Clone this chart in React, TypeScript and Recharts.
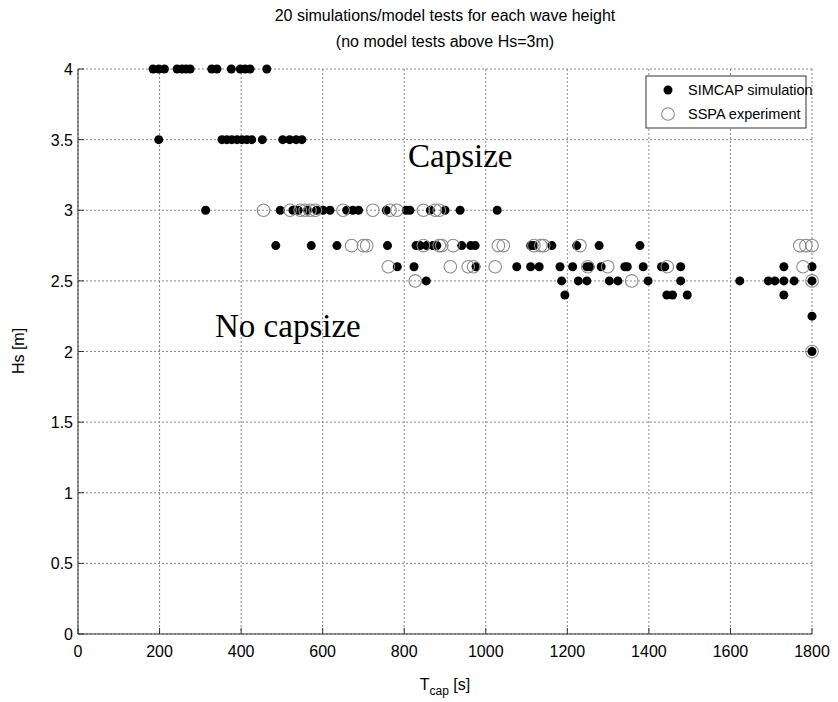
import React from 'react';
import { ScatterChart, Scatter, XAxis, YAxis, CartesianGrid } from 'recharts';

const xTicks = [0, 200, 400, 600, 800, 1000, 1200, 1400, 1600, 1800];
const yTicks = [0, 0.5, 1, 1.5, 2, 2.5, 3, 3.5, 4];

// SIMCAP simulation: capsize times (s) per wave height (m)
const simcapHs = [4, 3.5, 3, 2.75, 2.6, 2.5, 2.4, 2.25, 2];
const simcapT = [
  [184, 198, 212, 243, 255, 265, 275, 328, 341, 376, 398, 410, 422, 463],
  [198, 353, 365, 377, 390, 402, 414, 426, 452, 502, 519, 535, 549],
  [313, 496, 527, 540, 563, 585, 601, 618, 659, 674, 688, 756, 805, 814, 864, 900, 937, 1028],
  [485, 572, 635, 759, 829, 839, 855, 870, 880, 941, 963, 974, 1110, 1118, 1162, 1223, 1278, 1378],
  [783, 824, 976, 1076, 1110, 1131, 1182, 1213, 1248, 1256, 1283, 1341, 1347, 1386, 1431, 1439, 1478, 1731, 1800],
  [854, 1186, 1227, 1248, 1303, 1324, 1398, 1478, 1623, 1693, 1709, 1731, 1756, 1800],
  [1194, 1444, 1458, 1494, 1731],
  [1800],
  [1800],
];

// SSPA experiment
const sspaHs = [3, 2.75, 2.6, 2.5, 2];
const sspaT = [
  [455, 520, 545, 557, 569, 582, 650, 723, 765, 782, 847, 876, 886],
  [671, 700, 708, 847, 886, 892, 920, 1031, 1043, 1118, 1135, 1142, 1231, 1770, 1785, 1800],
  [761, 913, 957, 970, 1023, 1250, 1299, 1445, 1778],
  [827, 1358, 1800],
  [1800],
];

const build = (hs: number[], ts: number[][]) =>
  hs.flatMap((h, i) => ts[i].map((t) => ({ t, hs: h })));

const simcapData = build(simcapHs, simcapT);
const sspaData = build(sspaHs, sspaT);

const FONT = "'Liberation Sans', Arial, sans-serif";
const SERIF = "'Liberation Serif', 'Times New Roman', serif";
const FRAME = '#333';

const XTickBottom = (props: any) => {
  const { x, y, payload } = props;
  return (
    <g>
      <line x1={x} y1={y} x2={x} y2={y - 6} stroke={FRAME} />
      <text x={x} y={y + 23} textAnchor="middle" fontFamily={FONT} fontSize={16} fill="#000">
        {String(payload.value)}
      </text>
    </g>
  );
};
const XTickTop = (props: any) => {
  const { x, y } = props;
  return <line x1={x} y1={y} x2={x} y2={y + 6} stroke={FRAME} />;
};
const YTickLeft = (props: any) => {
  const { x, y, payload } = props;
  return (
    <g>
      <line x1={x} y1={y} x2={x + 6} y2={y} stroke={FRAME} />
      <text x={x - 5} y={y + 6} textAnchor="end" fontFamily={FONT} fontSize={16} fill="#000">
        {String(payload.value)}
      </text>
    </g>
  );
};
const YTickRight = (props: any) => {
  const { x, y } = props;
  return <line x1={x} y1={y} x2={x - 6} y2={y} stroke={FRAME} />;
};

const Dot = (props: any) => <circle cx={props.cx} cy={props.cy} r={4.5} fill="#000" />;
const Ring = (props: any) => (
  <circle cx={props.cx} cy={props.cy} r={6.3} fill="none" stroke="#8a8a8a" strokeWidth={1.1} />
);

export default function App() {
  return (
    <div style={{ position: 'relative', width: 838, height: 702, background: '#fff' }}>
      <style>{`body{margin:0}`}</style>
      <ScatterChart width={838} height={702} margin={{ top: 69, right: 26, bottom: 0, left: 0 }}>
        <CartesianGrid stroke="#888" strokeDasharray="2 2" />
        <XAxis
          dataKey="t"
          type="number"
          domain={[0, 1800]}
          ticks={xTicks}
          height={68}
          tickSize={0}
          tickMargin={0}
          tickLine={false}
          axisLine={{ stroke: FRAME }}
          tick={<XTickBottom />}
          interval={0}
        />
        <XAxis
          xAxisId="top"
          orientation="top"
          dataKey="t"
          type="number"
          domain={[0, 1800]}
          ticks={xTicks}
          height={0}
          tickSize={0}
          tickMargin={0}
          tickLine={false}
          axisLine={{ stroke: FRAME }}
          tick={<XTickTop />}
          interval={0}
        />
        <YAxis
          dataKey="hs"
          type="number"
          domain={[0, 4]}
          ticks={yTicks}
          width={78}
          tickSize={0}
          tickMargin={0}
          tickLine={false}
          axisLine={{ stroke: FRAME }}
          tick={<YTickLeft />}
          interval={0}
        />
        <YAxis
          yAxisId="right"
          orientation="right"
          dataKey="hs"
          type="number"
          domain={[0, 4]}
          ticks={yTicks}
          width={0}
          tickSize={0}
          tickMargin={0}
          tickLine={false}
          axisLine={{ stroke: FRAME }}
          tick={<YTickRight />}
          interval={0}
        />
        <Scatter name="SIMCAP simulation" data={simcapData} shape={<Dot />} isAnimationActive={false} />
        <Scatter name="SSPA experiment" data={sspaData} shape={<Ring />} isAnimationActive={false} />
      </ScatterChart>
      <svg
        width={838}
        height={702}
        style={{ position: 'absolute', left: 0, top: 0, pointerEvents: 'none' }}
      >
        <text x={445} y={21} textAnchor="middle" fontFamily={FONT} fontSize={16} fill="#000">
          20 simulations/model tests for each wave height
        </text>
        <text x={445} y={47} textAnchor="middle" fontFamily={FONT} fontSize={16} fill="#000">
          (no model tests above Hs=3m)
        </text>
        <text x={408} y={167} fontFamily={SERIF} fontSize={33} fill="#000">
          Capsize
        </text>
        <text x={215} y={337} fontFamily={SERIF} fontSize={33} fill="#000">
          No capsize
        </text>
        <text
          x={24}
          y={351}
          textAnchor="middle"
          fontFamily={FONT}
          fontSize={16}
          fill="#000"
          transform="rotate(-90 24 351)"
        >
          Hs [m]
        </text>
        <text x={445} y={690} textAnchor="middle" fontFamily={FONT} fontSize={16} fill="#000">
          T<tspan dy={5} fontSize={12}>cap</tspan>
          <tspan dy={-5}> [s]</tspan>
        </text>
        <g>
          <rect x={646} y={76} width={160} height={52} fill="#fff" stroke={FRAME} />
          <circle cx={668} cy={90} r={4.5} fill="#000" />
          <text x={688} y={95} fontFamily={FONT} fontSize={14.5} fill="#000">
            SIMCAP simulation
          </text>
          <circle cx={668} cy={114} r={6.3} fill="none" stroke="#8a8a8a" strokeWidth={1.1} />
          <text x={688} y={119} fontFamily={FONT} fontSize={14.5} fill="#000">
            SSPA experiment
          </text>
        </g>
      </svg>
    </div>
  );
}
